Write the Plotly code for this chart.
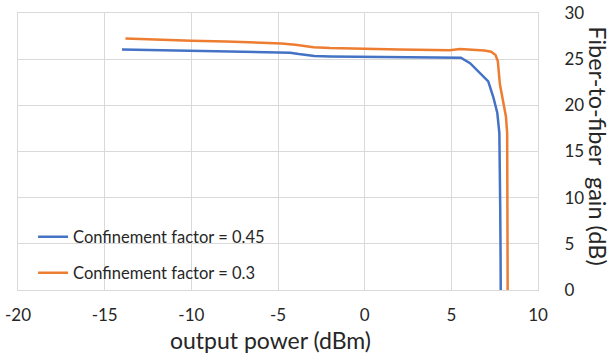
import plotly.graph_objects as go

# Confinement factor = 0.45
x_045 = [-14, -12, -10, -8, -6, -5, -4.3, -3.8, -3.3, -2.9, -2, 0, 2, 4, 5, 5.55,
         6.08, 6.66, 7.13, 7.42, 7.65, 7.77, 7.8, 7.82, 7.84, 7.85]
y_045 = [26.05, 25.97, 25.9, 25.85, 25.8, 25.75, 25.7, 25.55, 25.42, 25.35, 25.3, 25.25, 25.2, 25.17, 25.15, 25.15,
         24.56, 23.5, 22.6, 20.9, 19.2, 17.0, 14.0, 9.0, 4.0, 0]

# Confinement factor = 0.3
x_03 = [-13.8, -12, -10, -8, -6, -4.8, -4.0, -3.4, -2.95, -2, 0, 2, 4, 4.9, 5.5, 6.2, 6.9, 7.3,
        7.55, 7.68, 7.76, 7.8, 7.97, 8.15, 8.22, 8.24, 8.25]
y_03 = [27.25, 27.1, 27.0, 26.9, 26.8, 26.7, 26.55, 26.4, 26.3, 26.2, 26.1, 26.05, 26.0, 25.97, 26.1, 26.05, 25.95, 25.8,
        25.45, 24.8, 23.5, 22.3, 20.6, 18.8, 17.0, 9.0, 0]

series_names = ["Confinement factor = 0.45", "Confinement factor = 0.3"]
colors = ["#4472C4", "#ED7D31"]

x_ticks = [-20, -15, -10, -5, 0, 5, 10]
y_ticks = [0, 5, 10, 15, 20, 25, 30]

FONT = "Lato, Open Sans, sans-serif"
TXT = "#262626"

fig = go.Figure()
fig.add_trace(go.Scatter(x=x_045, y=y_045, mode="lines", name=series_names[0],
                         line=dict(color=colors[0], width=2.5), legend="legend"))
fig.add_trace(go.Scatter(x=x_03, y=y_03, mode="lines", name=series_names[1],
                         line=dict(color=colors[1], width=2.5), legend="legend2"))

fig.update_layout(
    width=614, height=355,
    margin=dict(l=18, r=76, t=13, b=65, autoexpand=False),
    paper_bgcolor="white", plot_bgcolor="white",
    font=dict(family=FONT, size=16, color=TXT),
    showlegend=True,
    legend=dict(x=0.029, y=0.191, xanchor="left", yanchor="middle",
                bgcolor="rgba(0,0,0,0)", font=dict(size=16.5, color=TXT)),
    legend2=dict(x=0.029, y=0.061, xanchor="left", yanchor="middle",
                 bgcolor="rgba(0,0,0,0)", font=dict(size=16.5, color=TXT)),
    xaxis=dict(range=[-20, 10], tickvals=x_ticks, ticktext=[str(v) for v in x_ticks],
               showgrid=True, gridcolor="#D9D9D9", gridwidth=1,
               showline=True, linecolor="#D9D9D9", linewidth=1, mirror=True,
               zeroline=False, ticks="", ticklabelstandoff=10, automargin=False,
               tickfont=dict(size=17, color=TXT)),
    yaxis=dict(range=[0, 30], tickvals=y_ticks, side="right",
               showgrid=True, gridcolor="#D9D9D9", gridwidth=1,
               showline=True, linecolor="#D9D9D9", linewidth=1, mirror=True,
               zeroline=False, ticks="", ticklabelstandoff=22, automargin=False,
               tickfont=dict(size=17, color=TXT)),
    annotations=[
        dict(text="output power (dBm)", xref="paper", yref="paper", x=0.485, y=-0.182,
             xanchor="center", yanchor="middle", showarrow=False,
             font=dict(size=23, color=TXT, family=FONT)),
        dict(text="Fiber-to-fiber  gain (dB)", xref="paper", yref="paper", x=1.115, y=0.52,
             xanchor="center", yanchor="middle", showarrow=False, textangle=90,
             font=dict(size=23.5, color=TXT, family=FONT)),
    ],
)

fig.write_html("out.html", config={"displayModeBar": False},
               post_script="document.body.style.margin='0';document.body.style.overflow='hidden';")
